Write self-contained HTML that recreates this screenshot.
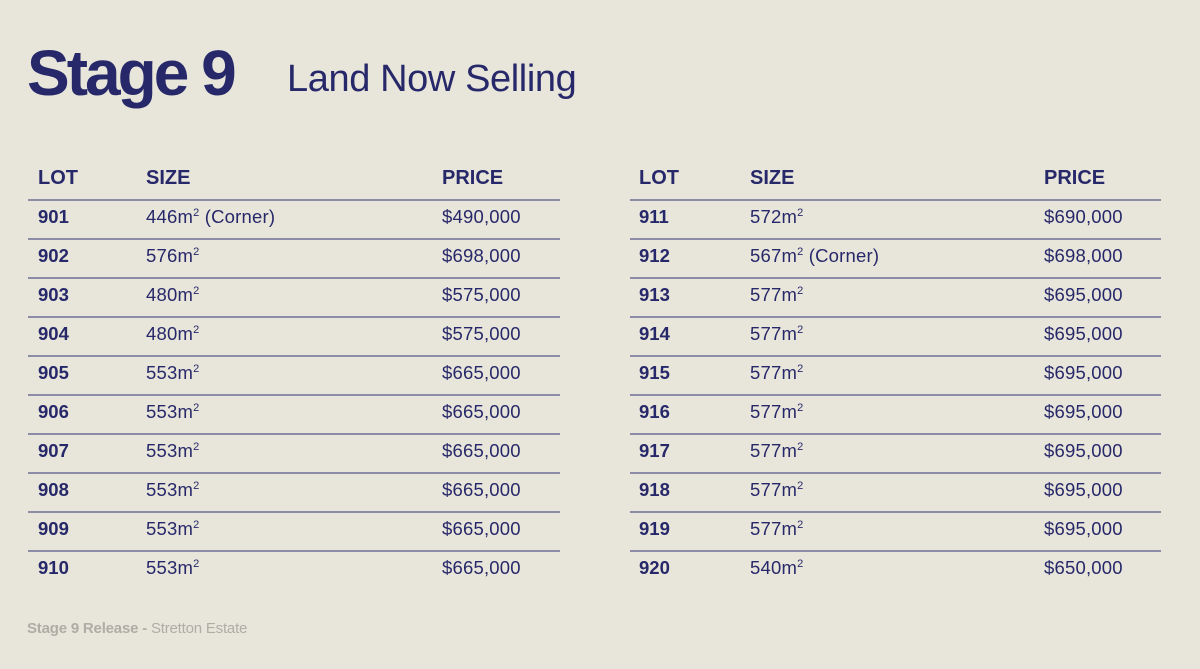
<!DOCTYPE html>
<html><head><meta charset="utf-8"><style>
*{margin:0;padding:0;box-sizing:border-box}
body{width:1200px;height:669px;background:#e8e6da;font-family:"Liberation Sans",sans-serif;color:#27286a;position:relative;overflow:hidden}
.a{position:absolute;white-space:nowrap}
.t1{left:27px;top:33px;font-size:64px;font-weight:bold;letter-spacing:-3px;line-height:80px}
.t2{left:287px;top:57px;font-size:38px;letter-spacing:-0.4px;line-height:44px}
.h{font-size:20px;font-weight:bold;line-height:20px}
.r{font-size:18.5px;line-height:20px;letter-spacing:0.2px}
.b{font-weight:bold;letter-spacing:0}
.ln{position:absolute;height:1.5px;background:#8c8ca6}
sup{font-size:11px;vertical-align:7px;line-height:0}
.f{left:27px;top:620px;font-size:15px;color:#aeada6;letter-spacing:-0.2px}
</style></head><body>
<div class="a t1">Stage 9</div>
<div class="a t2">Land Now Selling</div>

<div class="a h" style="left:38px;top:168px">LOT</div>
<div class="a h" style="left:146px;top:168px">SIZE</div>
<div class="a h" style="left:442px;top:168px">PRICE</div>
<div class="a h" style="left:639px;top:168px">LOT</div>
<div class="a h" style="left:750px;top:168px">SIZE</div>
<div class="a h" style="left:1044px;top:168px">PRICE</div>

<div class="ln" style="left:28px;width:532px;top:199px"></div>
<div class="ln" style="left:28px;width:532px;top:238px"></div>
<div class="ln" style="left:28px;width:532px;top:277px"></div>
<div class="ln" style="left:28px;width:532px;top:316px"></div>
<div class="ln" style="left:28px;width:532px;top:355px"></div>
<div class="ln" style="left:28px;width:532px;top:394px"></div>
<div class="ln" style="left:28px;width:532px;top:433px"></div>
<div class="ln" style="left:28px;width:532px;top:472px"></div>
<div class="ln" style="left:28px;width:532px;top:511px"></div>
<div class="ln" style="left:28px;width:532px;top:550px"></div>
<div class="ln" style="left:630px;width:531px;top:199px"></div>
<div class="ln" style="left:630px;width:531px;top:238px"></div>
<div class="ln" style="left:630px;width:531px;top:277px"></div>
<div class="ln" style="left:630px;width:531px;top:316px"></div>
<div class="ln" style="left:630px;width:531px;top:355px"></div>
<div class="ln" style="left:630px;width:531px;top:394px"></div>
<div class="ln" style="left:630px;width:531px;top:433px"></div>
<div class="ln" style="left:630px;width:531px;top:472px"></div>
<div class="ln" style="left:630px;width:531px;top:511px"></div>
<div class="ln" style="left:630px;width:531px;top:550px"></div>

<div class="a r b" style="left:38px;top:207px">901</div><div class="a r" style="left:146px;top:207px">446m<sup>2</sup> (Corner)</div><div class="a r" style="left:442px;top:207px">$490,000</div>
<div class="a r b" style="left:38px;top:246px">902</div><div class="a r" style="left:146px;top:246px">576m<sup>2</sup></div><div class="a r" style="left:442px;top:246px">$698,000</div>
<div class="a r b" style="left:38px;top:285px">903</div><div class="a r" style="left:146px;top:285px">480m<sup>2</sup></div><div class="a r" style="left:442px;top:285px">$575,000</div>
<div class="a r b" style="left:38px;top:324px">904</div><div class="a r" style="left:146px;top:324px">480m<sup>2</sup></div><div class="a r" style="left:442px;top:324px">$575,000</div>
<div class="a r b" style="left:38px;top:363px">905</div><div class="a r" style="left:146px;top:363px">553m<sup>2</sup></div><div class="a r" style="left:442px;top:363px">$665,000</div>
<div class="a r b" style="left:38px;top:402px">906</div><div class="a r" style="left:146px;top:402px">553m<sup>2</sup></div><div class="a r" style="left:442px;top:402px">$665,000</div>
<div class="a r b" style="left:38px;top:441px">907</div><div class="a r" style="left:146px;top:441px">553m<sup>2</sup></div><div class="a r" style="left:442px;top:441px">$665,000</div>
<div class="a r b" style="left:38px;top:480px">908</div><div class="a r" style="left:146px;top:480px">553m<sup>2</sup></div><div class="a r" style="left:442px;top:480px">$665,000</div>
<div class="a r b" style="left:38px;top:519px">909</div><div class="a r" style="left:146px;top:519px">553m<sup>2</sup></div><div class="a r" style="left:442px;top:519px">$665,000</div>
<div class="a r b" style="left:38px;top:558px">910</div><div class="a r" style="left:146px;top:558px">553m<sup>2</sup></div><div class="a r" style="left:442px;top:558px">$665,000</div>

<div class="a r b" style="left:639px;top:207px">911</div><div class="a r" style="left:750px;top:207px">572m<sup>2</sup></div><div class="a r" style="left:1044px;top:207px">$690,000</div>
<div class="a r b" style="left:639px;top:246px">912</div><div class="a r" style="left:750px;top:246px">567m<sup>2</sup> (Corner)</div><div class="a r" style="left:1044px;top:246px">$698,000</div>
<div class="a r b" style="left:639px;top:285px">913</div><div class="a r" style="left:750px;top:285px">577m<sup>2</sup></div><div class="a r" style="left:1044px;top:285px">$695,000</div>
<div class="a r b" style="left:639px;top:324px">914</div><div class="a r" style="left:750px;top:324px">577m<sup>2</sup></div><div class="a r" style="left:1044px;top:324px">$695,000</div>
<div class="a r b" style="left:639px;top:363px">915</div><div class="a r" style="left:750px;top:363px">577m<sup>2</sup></div><div class="a r" style="left:1044px;top:363px">$695,000</div>
<div class="a r b" style="left:639px;top:402px">916</div><div class="a r" style="left:750px;top:402px">577m<sup>2</sup></div><div class="a r" style="left:1044px;top:402px">$695,000</div>
<div class="a r b" style="left:639px;top:441px">917</div><div class="a r" style="left:750px;top:441px">577m<sup>2</sup></div><div class="a r" style="left:1044px;top:441px">$695,000</div>
<div class="a r b" style="left:639px;top:480px">918</div><div class="a r" style="left:750px;top:480px">577m<sup>2</sup></div><div class="a r" style="left:1044px;top:480px">$695,000</div>
<div class="a r b" style="left:639px;top:519px">919</div><div class="a r" style="left:750px;top:519px">577m<sup>2</sup></div><div class="a r" style="left:1044px;top:519px">$695,000</div>
<div class="a r b" style="left:639px;top:558px">920</div><div class="a r" style="left:750px;top:558px">540m<sup>2</sup></div><div class="a r" style="left:1044px;top:558px">$650,000</div>

<div class="a f"><b>Stage 9 Release -</b> Stretton Estate</div>
</body></html>
